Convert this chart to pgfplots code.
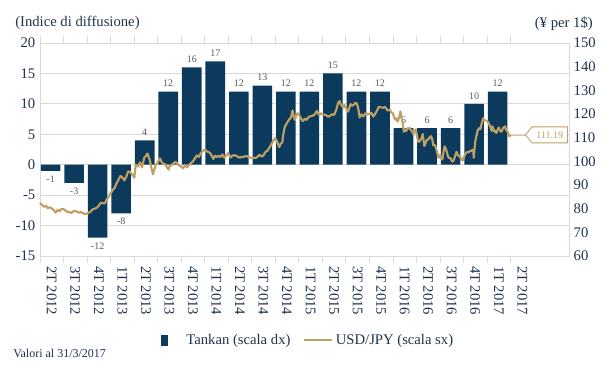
\documentclass[border=0pt]{standalone}
\usepackage{fontspec}
\setmainfont{Liberation Serif}
\usepackage{pgfplots}
\pgfplotsset{compat=1.18}
\usetikzlibrary{shapes.symbols}
\definecolor{navy}{RGB}{12,58,92}
\definecolor{gold}{RGB}{190,160,100}
\definecolor{txt}{RGB}{30,50,75}
\definecolor{gridc}{RGB}{217,217,217}
\definecolor{lab}{RGB}{89,89,89}
\begin{document}
\begin{tikzpicture}
\pgfplotsset{
  base/.style={scale only axis, width=396.75pt, height=159.75pt, xmin=0, xmax=67.45,
    /pgf/number format/assume math mode=true,
    tick label style={font=\fontsize{11}{13}\selectfont, text=txt},
    clip=false},
}
\begin{axis}[base,
  ymin=-15, ymax=20, ytick={-15,-10,...,20},
  ymajorgrids, grid style={gridc, line width=0.6pt},
  axis line style={gridc, line width=0.6pt},
  xtick={1.5,4.5,...,61.5},
  xticklabels={2T 2012,3T 2012,4T 2012,1T 2013,2T 2013,3T 2013,4T 2013,1T 2014,2T 2014,3T 2014,4T 2014,1T 2015,2T 2015,3T 2015,4T 2015,1T 2016,2T 2016,3T 2016,4T 2016,1T 2017,2T 2017},
  minor xtick={0,3,...,60},
  tick align=outside, major tick length=0pt, minor tick length=5.25pt,
  minor tick style={gridc, line width=0.6pt},
  xticklabel style={rotate=-90, anchor=west},
  xticklabel shift=4pt,
  ybar, bar width=2.5,
  nodes near coords,
  nodes near coords style={font=\fontsize{7.5}{9}\selectfont, text=lab},
]
\addplot[fill=navy, draw=none] coordinates {
(1.35,-1) (4.35,-3) (7.35,-12) (10.35,-8) (13.35,4) (16.35,12) (19.35,16) (22.35,17)
(25.35,12) (28.35,13) (31.35,12) (34.35,12) (37.35,15) (40.35,12) (43.35,12)
(46.35,6) (49.35,6) (52.35,6) (55.35,10) (58.35,12)};
\end{axis}
\begin{axis}[base,
  ymin=60, ymax=150, ytick={60,70,...,150},
  axis y line*=right, axis x line=none,
  axis line style={gridc, line width=0.6pt},
  major tick length=0pt,
  legend columns=2,
  legend style={draw=none, fill=none, font=\fontsize{11}{13}\selectfont, text=txt,
    at={(axis description cs:0.507,-0.394)}, anchor=center,
    /tikz/every even column/.append style={column sep=7.5pt}},
]
\addlegendimage{legend image code/.code={\fill[navy] (0pt,-3.75pt) rectangle (4.5pt,3.75pt);}}
\addlegendentry{\hspace{12.5pt}Tankan (scala dx)}
\addplot[gold, line width=1.6pt, line join=round,
  legend image code/.code={\draw[gold, line width=1.5pt] (0pt,0pt) -- (18pt,0pt); \path (18pt,0pt) -- (21pt,0pt);}]
coordinates {
(0,82.5) (0.25,81.6) (0.5,80.8) (0.75,81.3) (1.0,80.2) (1.25,80.6) (1.5,80.1) (1.75,79.4) (2.0,78.3) (2.25,79.5) (2.5,78.9) (2.75,79.9) (3.0,79.8) (3.25,79.2) (3.5,78.7)
(3.75,78.5) (4.0,78.2) (4.25,78.9) (4.5,79.1) (4.75,78.6) (5.0,78.3) (5.25,78.6) (5.5,78.0) (5.75,77.8) (6.0,77.9) (6.25,78.4) (6.5,78.9) (6.75,79.8) (7.0,80.0) (7.25,80.4) (7.5,81.3)
(7.75,82.5) (8.0,82.4) (8.25,82.2) (8.5,83.8) (8.75,85.0) (9.0,86.5) (9.25,87.8) (9.5,88.7) (9.75,90.6) (10.0,92.2) (10.25,93.8) (10.5,93.2) (10.75,92.0) (11.0,93.5) (11.25,95.8) (11.5,95.5)
(11.8,94.2) (12.03,93.1) (12.2,98.6) (12.5,97.8) (12.75,99.6) (13.0,97.4) (13.3,101.6) (13.5,102.3) (13.7,103.3)
(14.0,100.5) (14.2,97.2) (14.4,94.5) (14.7,98.0) (15.0,99.6) (15.3,101.2) (15.5,99.8) (15.75,98.8) (16.0,98.7)
(16.2,97.4) (16.4,96.5) (16.5,97.8) (16.75,98.4) (17.0,99.1) (17.3,99.8) (17.6,98.6) (17.8,98.2) (18.0,97.8) (18.25,97.0) (18.5,98.4)
(18.75,97.5) (19.0,98.4) (19.25,99.2) (19.5,100.0) (19.8,101.5) (20.0,102.5) (20.25,101.9) (20.5,103.4) (20.75,104.3) (21.0,105.0) (21.3,104.2)
(21.7,103.5) (21.9,102.3) (22.1,101.0) (22.3,102.4) (22.5,101.8) (22.75,102.3) (23.0,101.8) (23.25,102.9) (23.5,101.5) (23.75,102.5) (24.0,103.5) (24.3,101.6)
(24.5,102.3) (24.7,102.6) (25.0,102.4) (25.25,101.8) (25.5,101.6) (25.75,101.9) (26.0,101.9) (26.25,102.3) (26.5,102.0) (26.75,101.6) (27.0,101.5) (27.25,101.5) (27.5,101.4)
(27.75,102.0) (28.0,102.8) (28.3,102.0) (28.5,102.5) (28.7,103.8) (29.0,104.5) (29.25,105.8) (29.5,107.2) (29.8,109.0) (30.0,109.8)
(30.3,107.8) (30.5,106.0) (30.7,107.5) (30.9,108.0) (31.0,111.0) (31.2,114.5) (31.5,116.3) (31.8,117.8)
(32.0,118.5) (32.2,121.5) (32.35,119.0) (32.5,117.5) (32.65,119.2) (32.8,120.3) (33.0,119.8) (33.25,118.3) (33.5,117.0) (33.75,118.0) (34.0,117.5)
(34.25,118.8) (34.5,119.0) (34.75,119.3) (35.0,119.7) (35.3,121.3) (35.6,119.5) (35.8,120.3) (36.0,119.9) (36.25,119.7) (36.5,119.5) (36.75,118.8) (37.0,119.3)
(37.25,119.9) (37.5,119.6) (37.8,122.0) (38.0,124.6) (38.2,125.5) (38.35,124.0) (38.5,123.4) (38.65,122.8) (38.8,123.8) (39.0,122.5)
(39.3,121.0) (39.45,122.8) (39.6,124.2) (39.8,123.5) (40.0,123.9) (40.2,124.7) (40.4,124.5) (40.6,122.0) (40.75,118.5) (41.0,119.8) (41.25,119.0) (41.5,120.3)
(41.75,120.1) (42.0,119.9) (42.25,120.5) (42.5,118.9) (42.7,119.9) (42.9,121.0) (43.2,123.0) (43.5,122.8) (43.75,122.6) (44.0,123.0) (44.3,121.5)
(44.6,121.8) (44.8,120.6) (45.0,120.3) (45.15,118.7) (45.3,117.6) (45.45,118.2) (45.6,116.8) (45.8,118.6) (45.95,121.1) (46.05,119.5) (46.2,117.0) (46.4,112.5)
(46.55,113.5) (46.7,112.8) (46.85,114.0) (47.0,113.8) (47.15,114.2) (47.3,113.2) (47.45,112.6) (47.6,111.5) (47.75,112.9) (47.9,113.5) (48.05,111.2) (48.2,108.5) (48.35,108.2) (48.5,109.0)
(48.65,109.8) (48.8,111.5) (49.0,106.5) (49.15,107.5) (49.3,109.0) (49.5,109.2) (49.7,110.2) (49.85,110.6) (50.0,109.5) (50.15,106.8) (50.3,107.0) (50.45,106.0) (50.6,104.5)
(50.8,101.5) (51.0,102.7) (51.15,101.2) (51.3,100.8) (51.45,104.0) (51.6,106.3) (51.8,104.8) (52.0,102.3) (52.15,101.3) (52.3,101.5) (52.45,100.6) (52.6,99.9)
(52.75,100.5) (52.9,102.0) (53.1,104.0) (53.3,102.5) (53.5,102.2) (53.7,101.0) (53.9,100.3) (54.05,101.8) (54.2,103.0) (54.4,103.9) (54.6,103.8) (54.8,104.2) (55.0,104.5)
(55.25,105.0) (55.3,101.5) (55.4,105.0) (55.5,108.5) (55.65,110.8) (55.8,113.0) (56.0,114.0) (56.15,113.6) (56.3,115.8) (56.5,118.2) (56.65,117.4) (56.8,117.3)
(57.0,117.0) (57.15,116.6) (57.3,115.5) (57.45,114.4) (57.6,112.8) (57.7,114.8) (57.8,113.8) (57.9,112.8) (58.0,113.0) (58.1,112.2) (58.2,112.0) (58.35,113.4) (58.5,114.3)
(58.65,113.0) (58.8,112.5) (58.9,112.8) (59.0,113.9) (59.15,114.4) (59.3,114.8) (59.45,113.2) (59.6,112.7) (59.75,111.3) (59.85,110.6) (60.0,111.19)};
\addlegendentry{USD/JPY (scala sx)}
\addplot[gold!60, line width=0.4pt, forget plot] coordinates {(60,111.19) (62,111.19)};
\node[signal, signal to=west, signal pointer angle=100, draw=gold, fill=white, text=gold,
  font=\fontsize{7.5}{9}\selectfont, minimum height=12pt, minimum width=31.5pt,
  inner xsep=2pt, inner ysep=1pt, anchor=east, line width=0.6pt] at (axis cs:67.3,111.19) {111.19};
\end{axis}
\node[anchor=west, inner sep=0pt, font=\fontsize{11}{13}\selectfont, text=txt] at (-18.75pt,174.75pt) {(Indice di diffusione)};
\node[anchor=east, inner sep=0pt, font=\fontsize{11}{13}\selectfont, text=txt] at (414.75pt,174.5pt) {(¥ per 1\$)};
\node[anchor=west, inner sep=0pt, font=\fontsize{9}{11}\selectfont, text=txt] at (-20.25pt,-72.75pt) {Valori al 31/3/2017};
\pgfresetboundingbox
\path[use as bounding box] (-30pt,-88.5pt) rectangle (428.25pt,192pt);
\end{tikzpicture}
\end{document}
